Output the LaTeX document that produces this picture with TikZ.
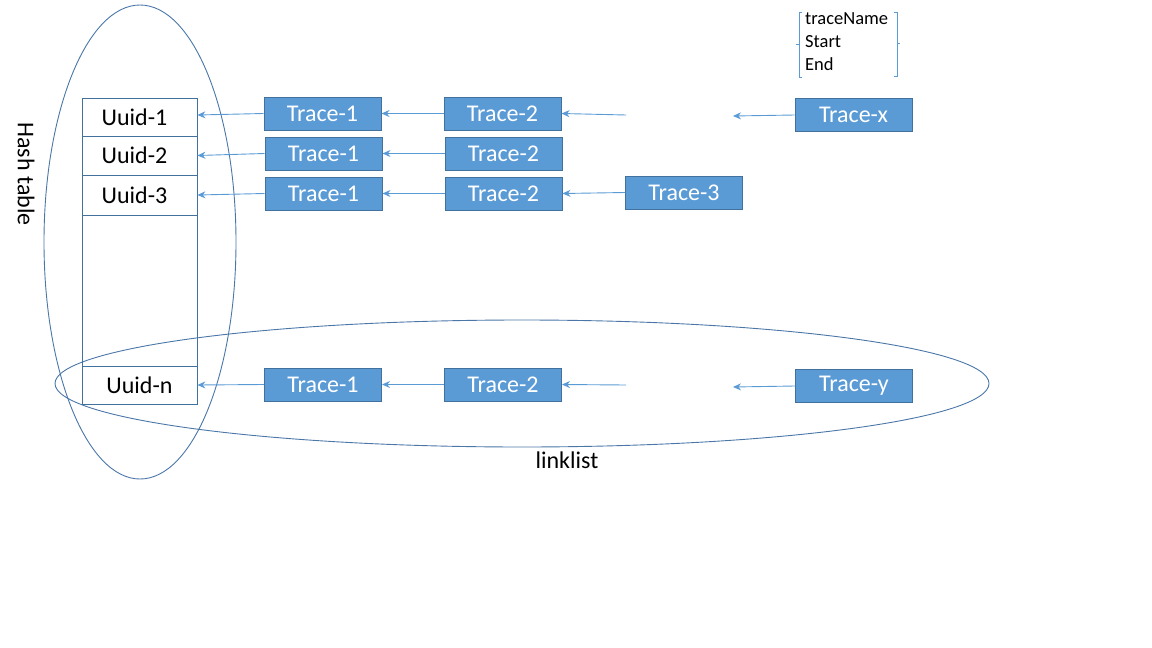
\documentclass[tikz,border=0pt]{standalone}
\usepackage{fontspec}
\setmainfont{Carlito}
\usetikzlibrary{arrows.meta}
\definecolor{boxfill}{HTML}{5B9BD5}
\definecolor{boxline}{HTML}{41719C}
\definecolor{lineblue}{HTML}{5B9BD5}
\definecolor{ellblue}{HTML}{4A76A8}
\tikzset{
  tracebox/.style={rectangle, draw=boxline, line width=1pt, fill=boxfill, text=white,
    minimum width=117pt, minimum height=33pt, inner sep=0pt, font=\fontsize{24}{26}\selectfont},
  cell/.style={rectangle, draw=boxline, line width=0.8pt, minimum width=115pt, inner sep=0pt,
    font=\fontsize{24}{26}\selectfont},
  arr/.style={draw=lineblue, line width=0.9pt, -{Stealth[length=8pt,width=7pt]}},
  ell/.style={draw=ellblue, line width=0.9pt},
  lbl/.style={font=\fontsize{24}{26}\selectfont, inner sep=0pt},
  small/.style={font=\fontsize{18.5}{20}\selectfont, inner sep=0pt, anchor=west},
}
\begin{document}
\begin{tikzpicture}[x=1pt,y=-1pt]
\useasboundingbox (0,0) rectangle (1152,648);
% hash table cells
\node[cell, minimum height=38pt] (c1) at (139.5,117) {\hspace*{-10pt}Uuid-1};
\node[cell, minimum height=39pt] (c2) at (139.5,155.5) {\hspace*{-10pt}Uuid-2};
\node[cell, minimum height=40pt] (c3) at (139.5,195) {\hspace*{-10pt}Uuid-3};
\node[cell, minimum height=151pt] (cb) at (139.5,290.5) {};
\node[cell, minimum height=38pt] (cn) at (139.5,385) {Uuid-n};
% ellipses
\draw[ell] (140,242) ellipse [x radius=96, y radius=237];
\draw[ell] (522,383.5) ellipse [x radius=467, y radius=63.5];
% labels
\node[lbl, rotate=-90] (ht) at (26,174) {Hash table};
\node[lbl] (ll) at (567,460) {linklist};
% trace boxes
\node[tracebox] (t11) at (322.5,113.5) {Trace-1};
\node[tracebox] (t12) at (502.5,113.5) {Trace-2};
\node[tracebox] (t1x) at (853.5,115) {Trace-x};
\node[tracebox] (t21) at (323.5,153.5) {Trace-1};
\node[tracebox] (t22) at (503.5,153.5) {Trace-2};
\node[tracebox] (t31) at (323.5,193.5) {Trace-1};
\node[tracebox] (t32) at (503.5,193.5) {Trace-2};
\node[tracebox] (t33) at (684,192.5) {Trace-3};
\node[tracebox] (tn1) at (323,384.5) {Trace-1};
\node[tracebox] (tn2) at (503,384.5) {Trace-2};
\node[tracebox] (tny) at (854,386) {Trace-y};
% free ends
\coordinate (a1) at (626,115);
\coordinate (b1) at (733,116);
\coordinate (an) at (626,385);
\coordinate (bn) at (733,387);
% arrows
\draw[arr] (t11.west) -- (c1.east |- 0,115);
\draw[arr] (t12.west) -- (t11.east);
\draw[arr] (a1) -- (t12.east);
\draw[arr] (t1x.west) -- (b1);
\draw[arr] (t21.west) -- (c2.east);
\draw[arr] (t22.west) -- (t21.east);
\draw[arr] (t31.west) -- (c3.east);
\draw[arr] (t32.west) -- (t31.east);
\draw[arr] (t33.west) -- (t32.east);
\draw[arr] (tn1.west) -- (cn.east);
\draw[arr] (tn2.west) -- (tn1.east);
\draw[arr] (an) -- (tn2.east);
\draw[arr] (tny.west) -- (bn);
% bracket legend
\node[small] (f1) at (805,19) {traceName};
\node[small] (f2) at (805,42) {Start};
\node[small] (f3) at (805,64) {End};
\draw[draw=lineblue, line width=0.8pt] (802,12) -- (799,12) -- (799,77) -- (802,77);
\draw[draw=lineblue, line width=0.8pt] (799,44) -- (796,44);
\draw[draw=lineblue, line width=0.8pt] (894,12) -- (897,12) -- (897,76) -- (894,76);
\draw[draw=lineblue, line width=0.8pt] (897,43) -- (900,43);
\end{tikzpicture}
\end{document}
